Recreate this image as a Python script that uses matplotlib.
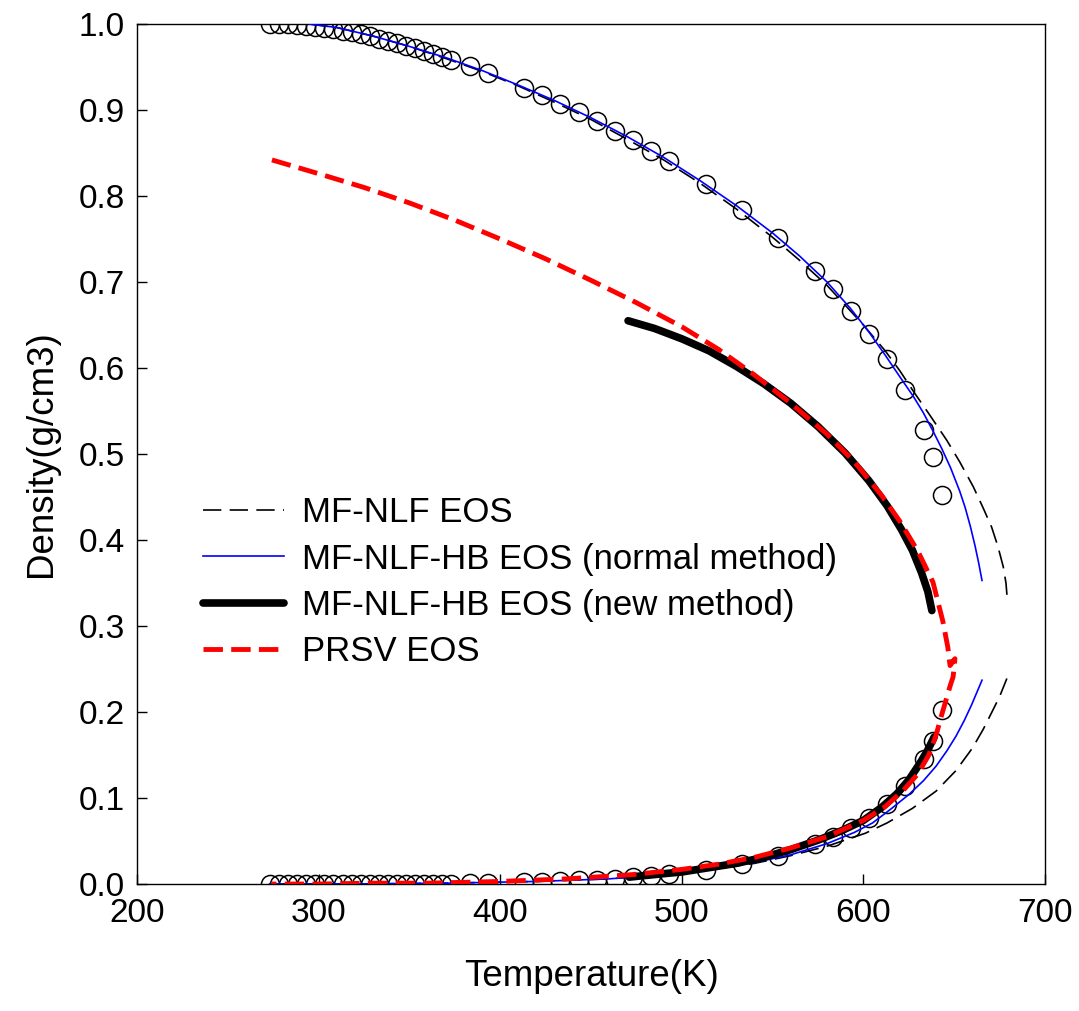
import matplotlib
matplotlib.use("Agg")
import matplotlib.pyplot as plt
from matplotlib.lines import Line2D

plt.rcParams['font.family'] = ['Liberation Sans', 'DejaVu Sans']

# Experimental saturated water densities (g/cm3)
exp_T = [273.15, 278.15, 283.15, 288.15, 293.15, 298.15, 303.15, 308.15, 313.15,
         318.15, 323.15, 328.15, 333.15, 338.15, 343.15, 348.15, 353.15, 358.15,
         363.15, 368.15, 373.15, 383.15, 393.15, 413.15, 423.15, 433.15, 443.15,
         453.15, 463.15, 473.15, 483.15, 493.15, 513.15, 533.15, 553.15, 573.15,
         583.15, 593.15, 603.15, 613.15, 623.15, 633.15, 638.15, 643.15]
exp_liq = [0.9998, 1.0000, 0.9997, 0.9991, 0.9982, 0.9970, 0.9956, 0.9940, 0.9922,
           0.9902, 0.9880, 0.9857, 0.9832, 0.9806, 0.9778, 0.9748, 0.9718, 0.9686,
           0.9653, 0.9619, 0.9584, 0.9510, 0.9431, 0.9261, 0.9170, 0.9075, 0.8973,
           0.8869, 0.8760, 0.8647, 0.8528, 0.8403, 0.8135, 0.7840, 0.7510, 0.7125,
           0.6914, 0.6669, 0.6398, 0.6100, 0.5746, 0.5280, 0.4962, 0.4518]
exp_vap = [0.0000, 0.0000, 0.0000, 0.0000, 0.0000, 0.0000, 0.0000, 0.0001, 0.0001,
           0.0001, 0.0001, 0.0001, 0.0001, 0.0002, 0.0002, 0.0003, 0.0003, 0.0004,
           0.0004, 0.0005, 0.0006, 0.0008, 0.0011, 0.0020, 0.0026, 0.0033, 0.0041,
           0.0052, 0.0064, 0.0079, 0.0096, 0.0116, 0.0167, 0.0235, 0.0326, 0.0463,
           0.0549, 0.0648, 0.0773, 0.0926, 0.1135, 0.1448, 0.1665, 0.2025]

# MF-NLF EOS
nlf_liq_T = [295, 310, 330, 350, 370, 390, 410, 430, 450, 470, 490, 510, 530, 550,
             565, 580, 600, 612, 620, 627.5, 636, 645.9, 653, 660.5, 666, 670.6,
             674, 677, 678.5, 679.2]
nlf_liq = [1.000, 0.996, 0.986, 0.974, 0.960, 0.945, 0.928, 0.909, 0.889, 0.866,
           0.842, 0.815, 0.785, 0.752, 0.725, 0.696, 0.650, 0.620, 0.597, 0.573,
           0.547, 0.516, 0.491, 0.462, 0.437, 0.415, 0.393, 0.369, 0.350, 0.332]
nlf_vap_T = [273, 320, 370, 420, 460, 490, 520, 540, 560, 580, 601, 613, 627, 640,
             651, 660, 666, 671, 675, 679]
nlf_vap = [0.000, 0.000, 0.001, 0.003, 0.006, 0.011, 0.018, 0.024, 0.033, 0.044,
           0.059, 0.071, 0.088, 0.108, 0.132, 0.158, 0.180, 0.201, 0.218, 0.239]

# MF-NLF-HB EOS, normal method
hbn_liq_T = [295, 310, 330, 350, 370, 390, 410, 430, 450, 470, 490, 510, 530, 550,
             565, 580, 593, 603, 612, 620, 627.5, 633, 638, 643, 648, 653, 656, 659,
             661.5, 663.5, 665.3]
hbn_liq = [1.000, 0.996, 0.986, 0.974, 0.961, 0.946, 0.929, 0.911, 0.891, 0.869,
           0.845, 0.818, 0.789, 0.757, 0.730, 0.700, 0.669, 0.642, 0.615, 0.590,
           0.567, 0.548, 0.528, 0.507, 0.484, 0.457, 0.438, 0.415, 0.393, 0.373, 0.353]
hbn_vap_T = [273, 320, 370, 420, 460, 490, 520, 540, 560, 580, 595, 605, 615, 625,
             633, 640, 646, 651, 655.5, 659.5, 662.5, 665.3]
hbn_vap = [0.000, 0.000, 0.001, 0.003, 0.006, 0.011, 0.018, 0.025, 0.034, 0.047,
           0.060, 0.071, 0.087, 0.104, 0.120, 0.137, 0.155, 0.172, 0.190, 0.208,
           0.223, 0.237]

# MF-NLF-HB EOS, new method
hbw_liq_T = [470.4, 485, 500, 515, 530, 545, 560, 575, 590, 603, 613, 621, 627,
             632, 635.5, 637.7]
hbw_liq = [0.655, 0.646, 0.634, 0.620, 0.602, 0.582, 0.559, 0.532, 0.501, 0.469,
           0.440, 0.412, 0.388, 0.362, 0.340, 0.318]
hbw_vap_T = [471, 485, 500, 515, 530, 545, 560, 575, 588, 600, 610, 618.5, 625,
             631, 635, 639]
hbw_vap = [0.008, 0.011, 0.014, 0.019, 0.024, 0.031, 0.040, 0.051, 0.062, 0.074,
           0.089, 0.105, 0.121, 0.140, 0.154, 0.171]

# PRSV EOS: liquid branch down to the critical region, then back along the vapour branch
prsv_T = [274.3, 300, 325, 350, 375, 400, 425, 450, 475, 500, 520, 540, 560, 580,
          595, 610, 620, 630, 638.3, 643.8, 646.5, 647.7, 650.4,
          649.4, 647.7, 645.5, 643, 640, 636, 630, 622, 612, 600, 580, 560, 540,
          520, 500, 473, 437, 400, 360, 330, 300, 274]
prsv = [0.842, 0.826, 0.810, 0.792, 0.772, 0.750, 0.727, 0.702, 0.676, 0.648,
        0.622, 0.592, 0.559, 0.523, 0.491, 0.452, 0.422, 0.387, 0.351, 0.305,
        0.275, 0.254, 0.262,
        0.241, 0.230, 0.214, 0.196, 0.173, 0.150, 0.128, 0.109, 0.090, 0.074,
        0.055, 0.042, 0.031, 0.023, 0.017, 0.011, 0.006, 0.003, 0.001, 0.001,
        0.000, 0.000]

x_ticks = [200, 300, 400, 500, 600, 700]
y_ticks = [0.0, 0.1, 0.2, 0.3, 0.4, 0.5, 0.6, 0.7, 0.8, 0.9, 1.0]

fig = plt.figure(figsize=(10.79, 10.11), dpi=100)
ax = fig.add_axes([0.127, 0.1256, 0.8415, 0.8506])

ax.plot(exp_T, exp_liq, 'o', ms=13, mfc='none', mec='black', mew=1.1, zorder=2)
ax.plot(exp_T, exp_vap, 'o', ms=13, mfc='none', mec='black', mew=1.1, zorder=2)

nlf_style = dict(color='black', lw=1.2, dashes=(11, 5), zorder=3)
ax.plot(nlf_liq_T, nlf_liq, **nlf_style)
ax.plot(nlf_vap_T, nlf_vap, **nlf_style)

hbn_style = dict(color='#0000ff', lw=1.2, zorder=4)
ax.plot(hbn_liq_T, hbn_liq, **hbn_style)
ax.plot(hbn_vap_T, hbn_vap, **hbn_style)

hbw_style = dict(color='black', lw=5.5, solid_capstyle='round',
                 solid_joinstyle='round', zorder=5)
ax.plot(hbw_liq_T, hbw_liq, **hbw_style)
ax.plot(hbw_vap_T, hbw_vap, **hbw_style)

prsv_style = dict(color='#ff0000', lw=3.5, dashes=(4.0, 1.7),
                  dash_capstyle='butt', dash_joinstyle='round')
ax.plot(prsv_T, prsv, zorder=6, **prsv_style)

ax.set_xlim(200, 700)
ax.set_ylim(0, 1.0)
ax.set_xticks(x_ticks)
ax.set_yticks(y_ticks)
ax.set_yticklabels([f"{v:.1f}" for v in y_ticks])
ax.tick_params(direction='in', length=7, width=1.0, labelsize=24,
               top=False, right=False)
ax.tick_params(axis='x', pad=10)
ax.tick_params(axis='y', pad=9)
for s in ax.spines.values():
    s.set_linewidth(1.0)

ax.set_xlabel('Temperature(K)', fontsize=26.5, labelpad=22)
ax.set_ylabel('Density(g/cm3)', fontsize=26.5, labelpad=14)

handles = [
    Line2D([], [], color='black', lw=1.2, dashes=(11, 5)),
    Line2D([], [], color='#0000ff', lw=1.2),
    Line2D([], [], color='black', lw=5.5, solid_capstyle='round'),
    Line2D([], [], **prsv_style),
]
labels = ['MF-NLF EOS', 'MF-NLF-HB EOS (normal method)',
          'MF-NLF-HB EOS (new method)', 'PRSV EOS']
ax.legend(handles, labels, loc='upper left', bbox_to_anchor=(0.057, 0.467),
          frameon=False, fontsize=25, handlelength=2.35, handletextpad=0.5,
          labelspacing=0.38, borderaxespad=0)

fig.savefig('out.png', dpi=100)
